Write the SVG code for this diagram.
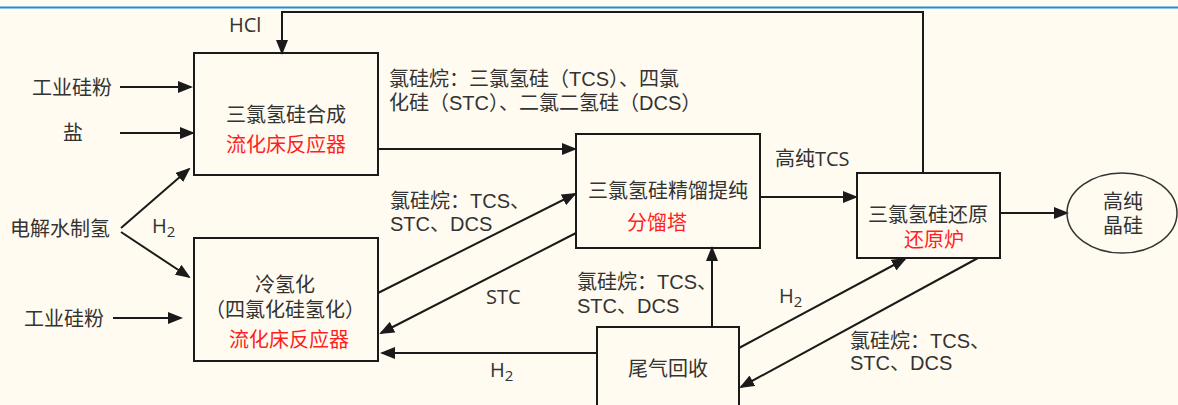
<svg xmlns="http://www.w3.org/2000/svg" width="1178" height="405" viewBox="0 0 1178 405">
<style>
.t{font-family:"Open Sans","Noto Sans CJK SC",sans-serif;font-size:20px;fill:#333}
.l{font-family:"Liberation Sans","Noto Sans CJK SC",sans-serif;font-size:20px;fill:#333}
.m{text-anchor:middle}
.r{fill:#ff1f1f}
.s{font-size:15px}
.box{fill:none;stroke:#1a1a1a;stroke-width:2}
.c{fill:none;stroke:#1a1a1a;stroke-width:2;marker-end:url(#a)}
</style>
<defs>
<marker id="a" markerUnits="userSpaceOnUse" markerWidth="15" markerHeight="12" refX="13" refY="6" orient="auto"><path d="M0,0L15,6L0,12z" fill="#1a1a1a"/></marker>
</defs>
<rect x="0" y="0" width="1178" height="405" fill="#fffbf0"/>
<line x1="0" y1="7.5" x2="1178" y2="7.5" stroke="#1b8fd6" stroke-width="2"/>

<g id="connectors">
<path class="c" d="M923,173V12H282V53"/>
<path class="c" d="M120,87H191"/>
<path class="c" d="M120,133H193"/>
<path class="c" d="M121,228L189,169"/>
<path class="c" d="M121,232L189,277"/>
<path class="c" d="M113,318H181"/>
<path class="c" d="M378,149H575"/>
<path class="c" d="M378,293L575,194"/>
<path class="c" d="M576,233L381,333"/>
<path class="c" d="M597,353H382"/>
<path class="c" d="M712,327V248"/>
<path class="c" d="M760,197H856"/>
<path class="c" d="M739,348L905,259"/>
<path class="c" d="M978,258L741,387"/>
<path class="c" d="M1000,213H1067"/>
</g>

<g id="labels">
<text class="t" x="229" y="32">HCl</text>
<text class="l" x="389" y="86">氯硅烷：三氯氢硅（TCS）、四氯<tspan x="389" dy="24">化硅（STC）、二氯二氢硅（DCS）</tspan></text>
<text class="l" x="390" y="208">氯硅烷：TCS、<tspan x="390" dy="23">STC、DCS</tspan></text>
<text class="t" x="486" y="304">STC</text>
<text class="t" x="152" y="233">H<tspan class="s" dy="4">2</tspan></text>
<text class="t" x="490" y="377">H<tspan class="s" dy="4">2</tspan></text>
<text class="t" x="779" y="303">H<tspan class="s" dy="4">2</tspan></text>
<text class="l" x="577" y="289">氯硅烷：TCS、<tspan x="577" dy="24">STC、DCS</tspan></text>
<text class="t" x="775" y="166">高纯TCS</text>
<text class="l" x="850" y="348">氯硅烷：TCS、<tspan x="850" dy="22">STC、DCS</tspan></text>
</g>

<g id="src-si1"><text class="t" x="32" y="95">工业硅粉</text></g>
<g id="src-salt"><text class="t" x="63" y="140">盐</text></g>
<g id="src-h2"><text class="t" x="10" y="236">电解水制氢</text></g>
<g id="src-si2"><text class="t" x="24" y="326">工业硅粉</text></g>

<g id="box-synthesis">
<rect class="box" x="194" y="53" width="184" height="122"/>
<text class="t m" x="286" y="122">三氯氢硅合成</text>
<text class="t m r" x="286" y="152">流化床反应器</text>
</g>

<g id="box-hydro">
<rect class="box" x="194" y="238" width="184" height="123"/>
<text class="l m" x="285" y="292">冷氢化</text>
<text class="l m" x="285" y="317">（四氯化硅氢化）</text>
<text class="l m r" x="289" y="347">流化床反应器</text>
</g>

<g id="box-distill">
<rect class="box" x="576" y="134" width="184" height="114"/>
<text class="t m" x="668" y="198">三氯氢硅精馏提纯</text>
<text class="t m r" x="657" y="230">分馏塔</text>
</g>

<g id="box-reduce">
<rect class="box" x="857" y="173" width="143" height="85"/>
<text class="l m" x="928" y="222">三氯氢硅还原</text>
<text class="l m r" x="934" y="247">还原炉</text>
</g>

<g id="box-tail">
<rect class="box" x="597" y="327" width="142" height="100"/>
<text class="t m" x="668" y="376">尾气回收</text>
</g>

<g id="product">
<ellipse cx="1122" cy="213" rx="55" ry="40" fill="none" stroke="#333" stroke-width="1.5"/>
<text class="l m" x="1123" y="209">高纯</text>
<text class="l m" x="1123" y="233">晶硅</text>
</g>
</svg>
